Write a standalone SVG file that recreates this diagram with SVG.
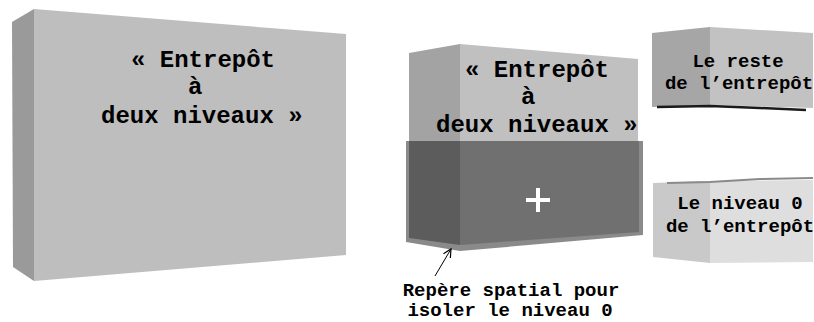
<svg xmlns="http://www.w3.org/2000/svg" width="814" height="322" viewBox="0 0 814 322">
<defs>
<style>
.t{font-family:"Liberation Mono","Courier New",monospace;font-weight:bold;fill:#000}
.big{font-size:24px}
.sm{font-size:19px;text-anchor:middle}
</style>
<marker id="ah" viewBox="0 0 10 10" refX="9" refY="5" markerWidth="10" markerHeight="10" markerUnits="userSpaceOnUse" orient="auto">
<path d="M1,1 L9,5 L1,9" fill="none" stroke="#000" stroke-width="1.2"/>
</marker>
</defs>
<rect width="814" height="322" fill="#fff"/>
<g id="entrepot-gauche">
<polygon points="12,22 34,9 34,281 13,267" fill="#9a9a9a"/>
<polygon points="34,9 346,34 346,255 34,281" fill="#bebebe"/>
<text class="t big" x="131" y="67">« Entrepôt</text>
<text class="t big" x="188" y="94">à</text>
<text class="t big" x="101" y="123">deux niveaux »</text>
</g>
<g id="entrepot-milieu">
<polygon points="409,53 460,44 460,141 409,141" fill="#a3a3a3"/>
<polygon points="460,44 638,59 638,141 460,141" fill="#c0c0c0"/>
<polygon points="406,141 643,141 643,235 460,251 406,242" fill="#8a8a8a"/>
<polygon points="409,141 460,141 460,245 409,238" fill="#5c5c5c"/>
<polygon points="460,141 639,141 639,232 460,245" fill="#707070"/>
<text class="t big" x="465" y="77">« Entrepôt</text>
<text class="t big" x="521" y="104">à</text>
<text class="t big" x="436" y="132">deux niveaux »</text>
<path d="M526,200 H550 M538,188 V212" stroke="#fff" stroke-width="4"/>
</g>
<g id="reste-entrepot">
<polygon points="652,33 710,27 710,105 652,107" fill="#a6a6a6"/>
<polygon points="710,27 813,33 813,108 710,105" fill="#c2c2c2"/>
<polyline points="657,107 710,106 760,108 806,110" fill="none" stroke="#1a1a1a" stroke-width="2.5"/>
<text class="t sm" x="738" y="67">Le reste</text>
<text class="t sm" x="739" y="89">de l’entrepôt</text>
</g>
<g id="niveau-0">
<polygon points="653,183 710,181 710,263 653,257" fill="#c9c9c9"/>
<polygon points="710,181 813,180 813,262 710,263" fill="#dedede"/>
<polyline points="667,183 710,182 760,179 813,178" fill="none" stroke="#8a8a8a" stroke-width="2"/>
<text class="t sm" x="740" y="209">Le niveau 0</text>
<text class="t sm" x="740" y="232">de l’entrepôt</text>
</g>
<g id="connecteurs">
<line x1="435" y1="276" x2="451" y2="249" stroke="#000" stroke-width="1" marker-end="url(#ah)"/>
</g>
<g id="legende">
<text class="t sm" x="511" y="296">Repère spatial pour</text>
<text class="t sm" x="510" y="316">isoler le niveau 0</text>
</g>
</svg>
